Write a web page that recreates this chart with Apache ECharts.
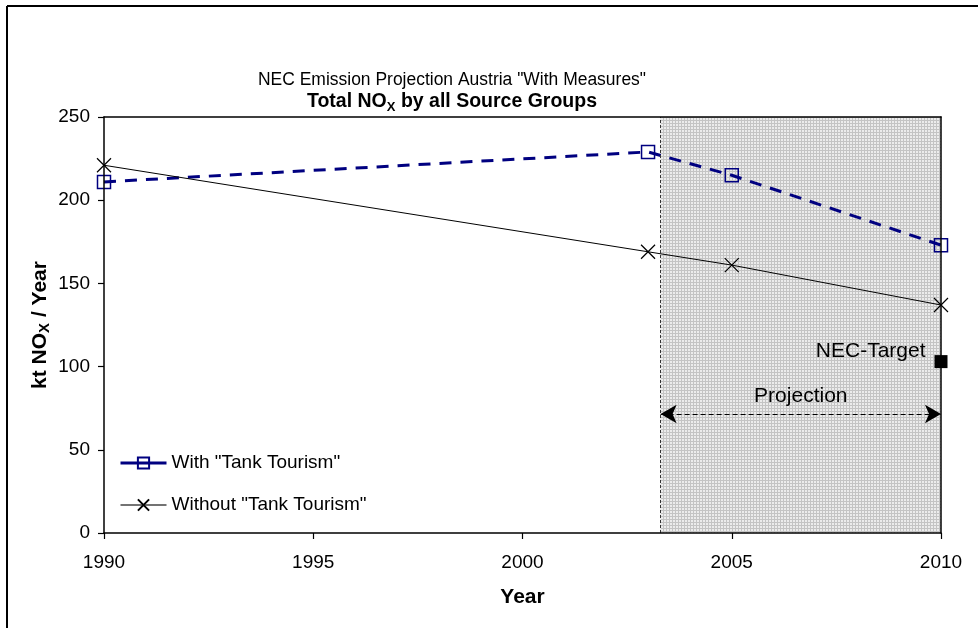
<!DOCTYPE html>
<html>
<head>
<meta charset="utf-8">
<title>NEC Emission Projection Austria</title>
<script src="https://cdn.jsdelivr.net/npm/echarts@6/dist/echarts.min.js"></script>
<style>
  html, body { margin: 0; padding: 0; background: #fff; }
  #chart { width: 978px; height: 628px; }
</style>
</head>
<body>
<div id="chart"></div>
<script>
// Emission figures, kt NOx per year
const years = [1990, 2003, 2005, 2010];
const withTankTourism = [211, 229, 215, 173];
const withoutTankTourism = [221, 169, 161, 137];
const necTargetYear = 2010;
const necTargetValue = 103;
const projectionStart = 2003.3;
const projectionEnd = 2010;
const projectionArrowLevel = 71.5;
const yearTicks = [1990, 1995, 2000, 2005, 2010];
const valueTicks = [0, 50, 100, 150, 200, 250];

const FONT = 'Arial, "Liberation Sans", sans-serif';

// fine grey screen used for the projection period
function makeScreen() {
  const c = document.createElement('canvas');
  c.width = 3; c.height = 3;
  const g = c.getContext('2d');
  g.fillStyle = '#ececec';
  g.fillRect(0, 0, 3, 3);
  g.fillStyle = '#c4c4c4';
  g.fillRect(0, 0, 3, 1);
  g.fillRect(0, 0, 1, 3);
  return c;
}

const chart = echarts.init(document.getElementById('chart'), null, { renderer: 'canvas' });

const xMin = yearTicks[0], xMax = yearTicks[yearTicks.length - 1];
const yMin = valueTicks[0], yMax = valueTicks[valueTicks.length - 1];

const option = {
  backgroundColor: '#fff',
  animation: false,
  textStyle: { fontFamily: FONT },
  grid: { left: 104, right: 37, top: 117, bottom: 95, containLabel: false },
  xAxis: [{
    type: 'value', min: xMin, max: xMax, interval: 5,
    z: 10,
    axisLine: { show: true, onZero: false, lineStyle: { color: '#000', width: 1.5 } },
    axisTick: { show: true, length: 6, lineStyle: { color: '#000', width: 1.2 } },
    axisLabel: { color: '#000', fontSize: 19, margin: 20, fontFamily: FONT, formatter: v => String(v) },
    splitLine: { show: false },
    name: 'Year', nameLocation: 'middle', nameGap: 54,
    nameTextStyle: { color: '#000', fontSize: 21, fontWeight: 'bold', fontFamily: FONT }
  }, {
    type: 'value', min: xMin, max: xMax, position: 'top', z: 10,
    axisLine: { show: true, onZero: false, lineStyle: { color: '#000', width: 1.5 } },
    axisTick: { show: false }, axisLabel: { show: false }, splitLine: { show: false }
  }],
  yAxis: [{
    type: 'value', min: yMin, max: yMax, interval: 50,
    z: 10,
    axisLine: { show: true, onZero: false, lineStyle: { color: '#000', width: 1.5 } },
    axisTick: { show: true, length: 6, lineStyle: { color: '#000', width: 1.2 } },
    axisLabel: { color: '#000', fontSize: 19, margin: 14, fontFamily: FONT, formatter: v => String(v) },
    splitLine: { show: false },
    name: '{b|kt NO}{s|X}{b| / Year}', nameLocation: 'middle', nameGap: 51, nameRotate: 90,
    nameMoveOverlap: false,
    nameTextStyle: {
      color: '#000',
      rich: {
        b: { fontSize: 21, fontWeight: 'bold', fontFamily: FONT, color: '#000', lineHeight: 26 },
        s: { fontSize: 15, fontWeight: 'bold', fontFamily: FONT, color: '#000', lineHeight: 26, padding: [10, 0, 0, 0] }
      }
    }
  }, {
    type: 'value', min: yMin, max: yMax, position: 'right', z: 10,
    axisLine: { show: true, onZero: false, lineStyle: { color: '#000', width: 1.5 } },
    axisTick: { show: false }, axisLabel: { show: false }, splitLine: { show: false }
  }],
  legend: {
    orient: 'vertical', left: 119, top: 453, itemGap: 22, padding: 0,
    itemWidth: 46, itemHeight: 14,
    textStyle: { color: '#000', fontSize: 19, fontFamily: FONT, lineHeight: 20 },
    data: [
      { name: 'With "Tank Tourism"', lineStyle: { type: 'solid', width: 3 } },
      { name: 'Without "Tank Tourism"', lineStyle: { color: '#444', width: 1.5 } }
    ]
  },
  graphic: [
    { type: 'line', shape: { x1: 7, y1: 6, x2: 978, y2: 6 }, style: { stroke: '#000', lineWidth: 2 } },
    { type: 'line', shape: { x1: 7, y1: 6, x2: 7, y2: 628 }, style: { stroke: '#000', lineWidth: 2 } },
    {
      type: 'text', x: 452, y: 80, scaleX: 0.93,
      style: { text: 'NEC Emission Projection Austria "With Measures"', font: '18.8px ' + FONT, fill: '#000', align: 'center', verticalAlign: 'middle' }
    },
    {
      type: 'text', x: 452, y: 102,
      style: {
        text: '{b|Total NO}{s|X}{b| by all Source Groups}', align: 'center', verticalAlign: 'middle', fill: '#000',
        rich: {
          b: { fontSize: 19.5, fontWeight: 'bold', fontFamily: FONT, fill: '#000', lineHeight: 24 },
          s: { fontSize: 13, fontWeight: 'bold', fontFamily: FONT, fill: '#000', lineHeight: 24, padding: [10, 0, 0, 0] }
        }
      }
    }
  ],
  series: [
    {
      name: 'Projection period',
      type: 'line', data: [], silent: true, z: 1,
      markArea: {
        silent: true,
        itemStyle: { color: { image: makeScreen(), repeat: 'repeat' }, borderWidth: 0 },
        data: [[{ coord: [projectionStart, yMin] }, { coord: [projectionEnd, yMax] }]]
      },
      markLine: {
        silent: true, symbol: ['none', 'none'],
        lineStyle: { color: '#333', type: [3, 2], width: 1 },
        label: { show: false },
        data: [[{ coord: [projectionStart, yMin] }, { coord: [projectionStart, yMax] }]]
      }
    },
    {
      name: 'Projection arrow',
      type: 'line', data: [], silent: true, z: 3,
      markLine: {
        silent: true, symbol: ['arrow', 'arrow'], symbolSize: [14, 16],
        lineStyle: { color: '#000', type: [5, 3], width: 1.2 },
        label: {
          show: true, position: 'middle', formatter: 'Projection', color: '#000',
          fontSize: 21, fontFamily: FONT, distance: 7
        },
        data: [[{ coord: [projectionStart, projectionArrowLevel] }, { coord: [projectionEnd, projectionArrowLevel] }]]
      }
    },
    {
      name: 'With "Tank Tourism"',
      type: 'line', z: 4,
      data: years.map((y, i) => [y, withTankTourism[i]]),
      lineStyle: { color: '#000080', width: 3, type: [12, 9] },
      symbol: 'rect', symbolSize: 13, showAllSymbol: true,
      itemStyle: { color: 'rgba(255,255,255,0)', borderColor: '#000080', borderWidth: 1.5 }
    },
    {
      name: 'Without "Tank Tourism"',
      type: 'line', z: 4,
      data: years.map((y, i) => [y, withoutTankTourism[i]]),
      lineStyle: { color: '#000', width: 1 },
      symbol: 'path://M0 0L10 10M10 0L0 10', symbolSize: 14, showAllSymbol: true,
      itemStyle: { color: 'rgba(0,0,0,0)', borderColor: '#000', borderWidth: 1.2 }
    },
    {
      name: 'NEC-Target',
      type: 'scatter', z: 5,
      data: [[necTargetYear, necTargetValue]],
      symbol: 'rect', symbolSize: 13,
      itemStyle: { color: '#000', opacity: 1 },
      label: {
        show: true, position: 'left', formatter: 'NEC-Target', distance: 9, offset: [0, -10],
        color: '#000', fontSize: 21, fontFamily: FONT
      }
    }
  ]
};

chart.setOption(option);
</script>
</body>
</html>
